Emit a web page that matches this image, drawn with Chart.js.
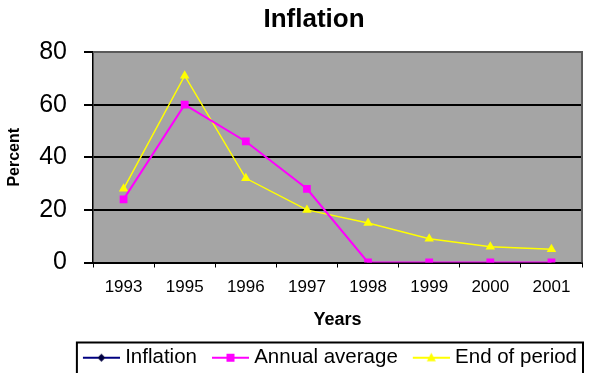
<!DOCTYPE html>
<html>
<head>
<meta charset="utf-8">
<script src="https://cdn.jsdelivr.net/npm/chart.js@4/dist/chart.umd.min.js"></script>
<style>
  body { margin: 0; background: #fff; }
  canvas { display: block; }
</style>
</head>
<body>
<canvas id="chart" width="600" height="373"></canvas>
<script>
const years = ["1993", "1995", "1996", "1997", "1998", "1999", "2000", "2001"];
const inflation = [null, null, null, null, null, null, null, null];
const annualAverage = [24, 60, 46, 28, 0, 0, 0, 0];
const endOfPeriod = [28, 71, 32, 20, 15, 9, 6, 5];
const yTicks = [0, 20, 40, 60, 80];

const FONT = '"Liberation Sans", Arial, sans-serif';
const PLOT_BG = "#a5a5a5";

// legend sample: a short line with the marker in the middle
function legendSample(color, marker) {
  const c = document.createElement("canvas");
  c.width = 49;
  c.height = 20;
  const g = c.getContext("2d");
  g.strokeStyle = color;
  g.lineWidth = 2;
  g.beginPath();
  g.moveTo(12, 10);
  g.lineTo(49, 10);
  g.stroke();
  const cx = 30.5, cy = 10;
  g.fillStyle = marker === "diamond" ? "#000040" : color;
  g.beginPath();
  if (marker === "rect") {
    g.rect(cx - 4, cy - 4, 8, 8);
  } else if (marker === "triangle") {
    g.moveTo(cx, cy - 5);
    g.lineTo(cx + 4.5, cy + 3.5);
    g.lineTo(cx - 4.5, cy + 3.5);
    g.closePath();
  } else {
    g.moveTo(cx, cy - 4);
    g.lineTo(cx + 4, cy);
    g.lineTo(cx, cy + 4);
    g.lineTo(cx - 4, cy);
    g.closePath();
  }
  g.fill();
  return c;
}

const samples = [
  legendSample("#000080", "diamond"),
  legendSample("#ff00ff", "rect"),
  legendSample("#ffff00", "triangle"),
];

const plotFrame = {
  id: "plotFrame",
  afterLayout(chart) {
    // title sits a little left of the plot centre, as in the original
    if (chart.titleBlock) chart.titleBlock.left = 46;
    if (chart.legend) chart.legend.right = 585;
  },
  beforeDraw(chart) {
    const { ctx, chartArea: a } = chart;
    ctx.save();
    ctx.fillStyle = PLOT_BG;
    ctx.fillRect(a.left, a.top, a.right - a.left, a.bottom - a.top);
    ctx.restore();
  },
  beforeDatasetsDraw(chart) {
    const { ctx, chartArea: a } = chart;
    ctx.save();
    ctx.strokeStyle = "#5a5a5a";
    ctx.lineWidth = 2;
    ctx.beginPath();
    ctx.moveTo(a.left, a.top);
    ctx.lineTo(a.right, a.top);
    ctx.lineTo(a.right, a.bottom);
    ctx.stroke();
    ctx.restore();
  },
  afterDraw(chart) {
    const lg = chart.legend;
    if (!lg || !lg.legendHitBoxes.length) return;
    const first = lg.legendHitBoxes[0];
    const last = lg.legendHitBoxes[lg.legendHitBoxes.length - 1];
    const ctx = chart.ctx;
    ctx.save();
    ctx.strokeStyle = "#000";
    ctx.lineWidth = 2;
    const x0 = first.left + 1;
    const x1 = last.left + last.width + 6;
    const y0 = lg.top + 3;
    ctx.strokeRect(x0, y0, x1 - x0, chart.height + 10 - y0);
    ctx.restore();
  },
};

new Chart(document.getElementById("chart"), {
  type: "line",
  data: {
    labels: years,
    datasets: [
      {
        label: "Inflation",
        data: inflation,
        borderColor: "#000080",
        backgroundColor: "#000040",
        borderWidth: 2,
        pointStyle: "rectRot",
        pointRadius: 4,
      },
      {
        label: "Annual average",
        data: annualAverage,
        borderColor: "#ff00ff",
        backgroundColor: "#ff00ff",
        borderWidth: 2,
        pointStyle: "rect",
        pointRadius: 5.5,
        pointBorderWidth: 0,
        tension: 0,
      },
      {
        label: "End of period",
        data: endOfPeriod,
        borderColor: "#ffff00",
        backgroundColor: "#ffff00",
        borderWidth: 1.5,
        pointStyle: "triangle",
        pointRadius: 5.5,
        pointBorderWidth: 0,
        tension: 0,
      },
    ],
  },
  options: {
    responsive: false,
    animation: false,
    layout: { padding: { left: 0, right: 18, top: 0, bottom: -5 } },
    plugins: {
      title: {
        display: true,
        text: "Inflation",
        color: "#000",
        font: { family: FONT, size: 26, weight: "bold" },
        padding: { top: 4, bottom: 16.8 },
      },
      legend: {
        position: "bottom",
        align: "end",
        labels: {
          usePointStyle: true,
          pointStyleWidth: 39,
          padding: 8,
          color: "#000",
          font: { family: FONT, size: 20.5 },
          generateLabels(chart) {
            const items = Chart.defaults.plugins.legend.labels.generateLabels(chart);
            return items.map((it, i) => ({ ...it, pointStyle: samples[i] }));
          },
        },
      },
      tooltip: { enabled: false },
    },
    scales: {
      x: {
        offset: true,
        grid: {
          offset: true,
          drawOnChartArea: false,
          drawTicks: true,
          tickLength: 5,
          color: "#000",
        },
        border: { color: "#000", width: 2 },
        ticks: {
          color: "#000",
          padding: 10,
          maxRotation: 0,
          autoSkip: false,
          font: { family: FONT, size: 17 },
        },
        title: {
          display: true,
          text: "Years",
          color: "#000",
          font: { family: FONT, size: 18, weight: "bold" },
          padding: { top: 0, bottom: 9 },
        },
        afterFit(s) { s.height = 77; },
      },
      y: {
        min: 0,
        max: 80,
        afterBuildTicks(s) { s.ticks = yTicks.map((v) => ({ value: v })); },
        grid: {
          color: (c) => (c.tick && c.tick.value === 80 ? "#5a5a5a" : "#000"),
          tickColor: "#000",
          lineWidth: 2,
          tickLength: 9,
        },
        border: { color: "#000", width: 1.5 },
        ticks: {
          color: "#000",
          padding: 17,
          font: { family: FONT, size: 25 },
        },
        title: {
          display: true,
          text: "Percent",
          color: "#000",
          font: { family: FONT, size: 16, weight: "bold" },
          padding: { top: 5, bottom: 0 },
        },
        afterFit(s) { s.width = 93; },
      },
    },
  },
  plugins: [plotFrame],
});
</script>
</body>
</html>
